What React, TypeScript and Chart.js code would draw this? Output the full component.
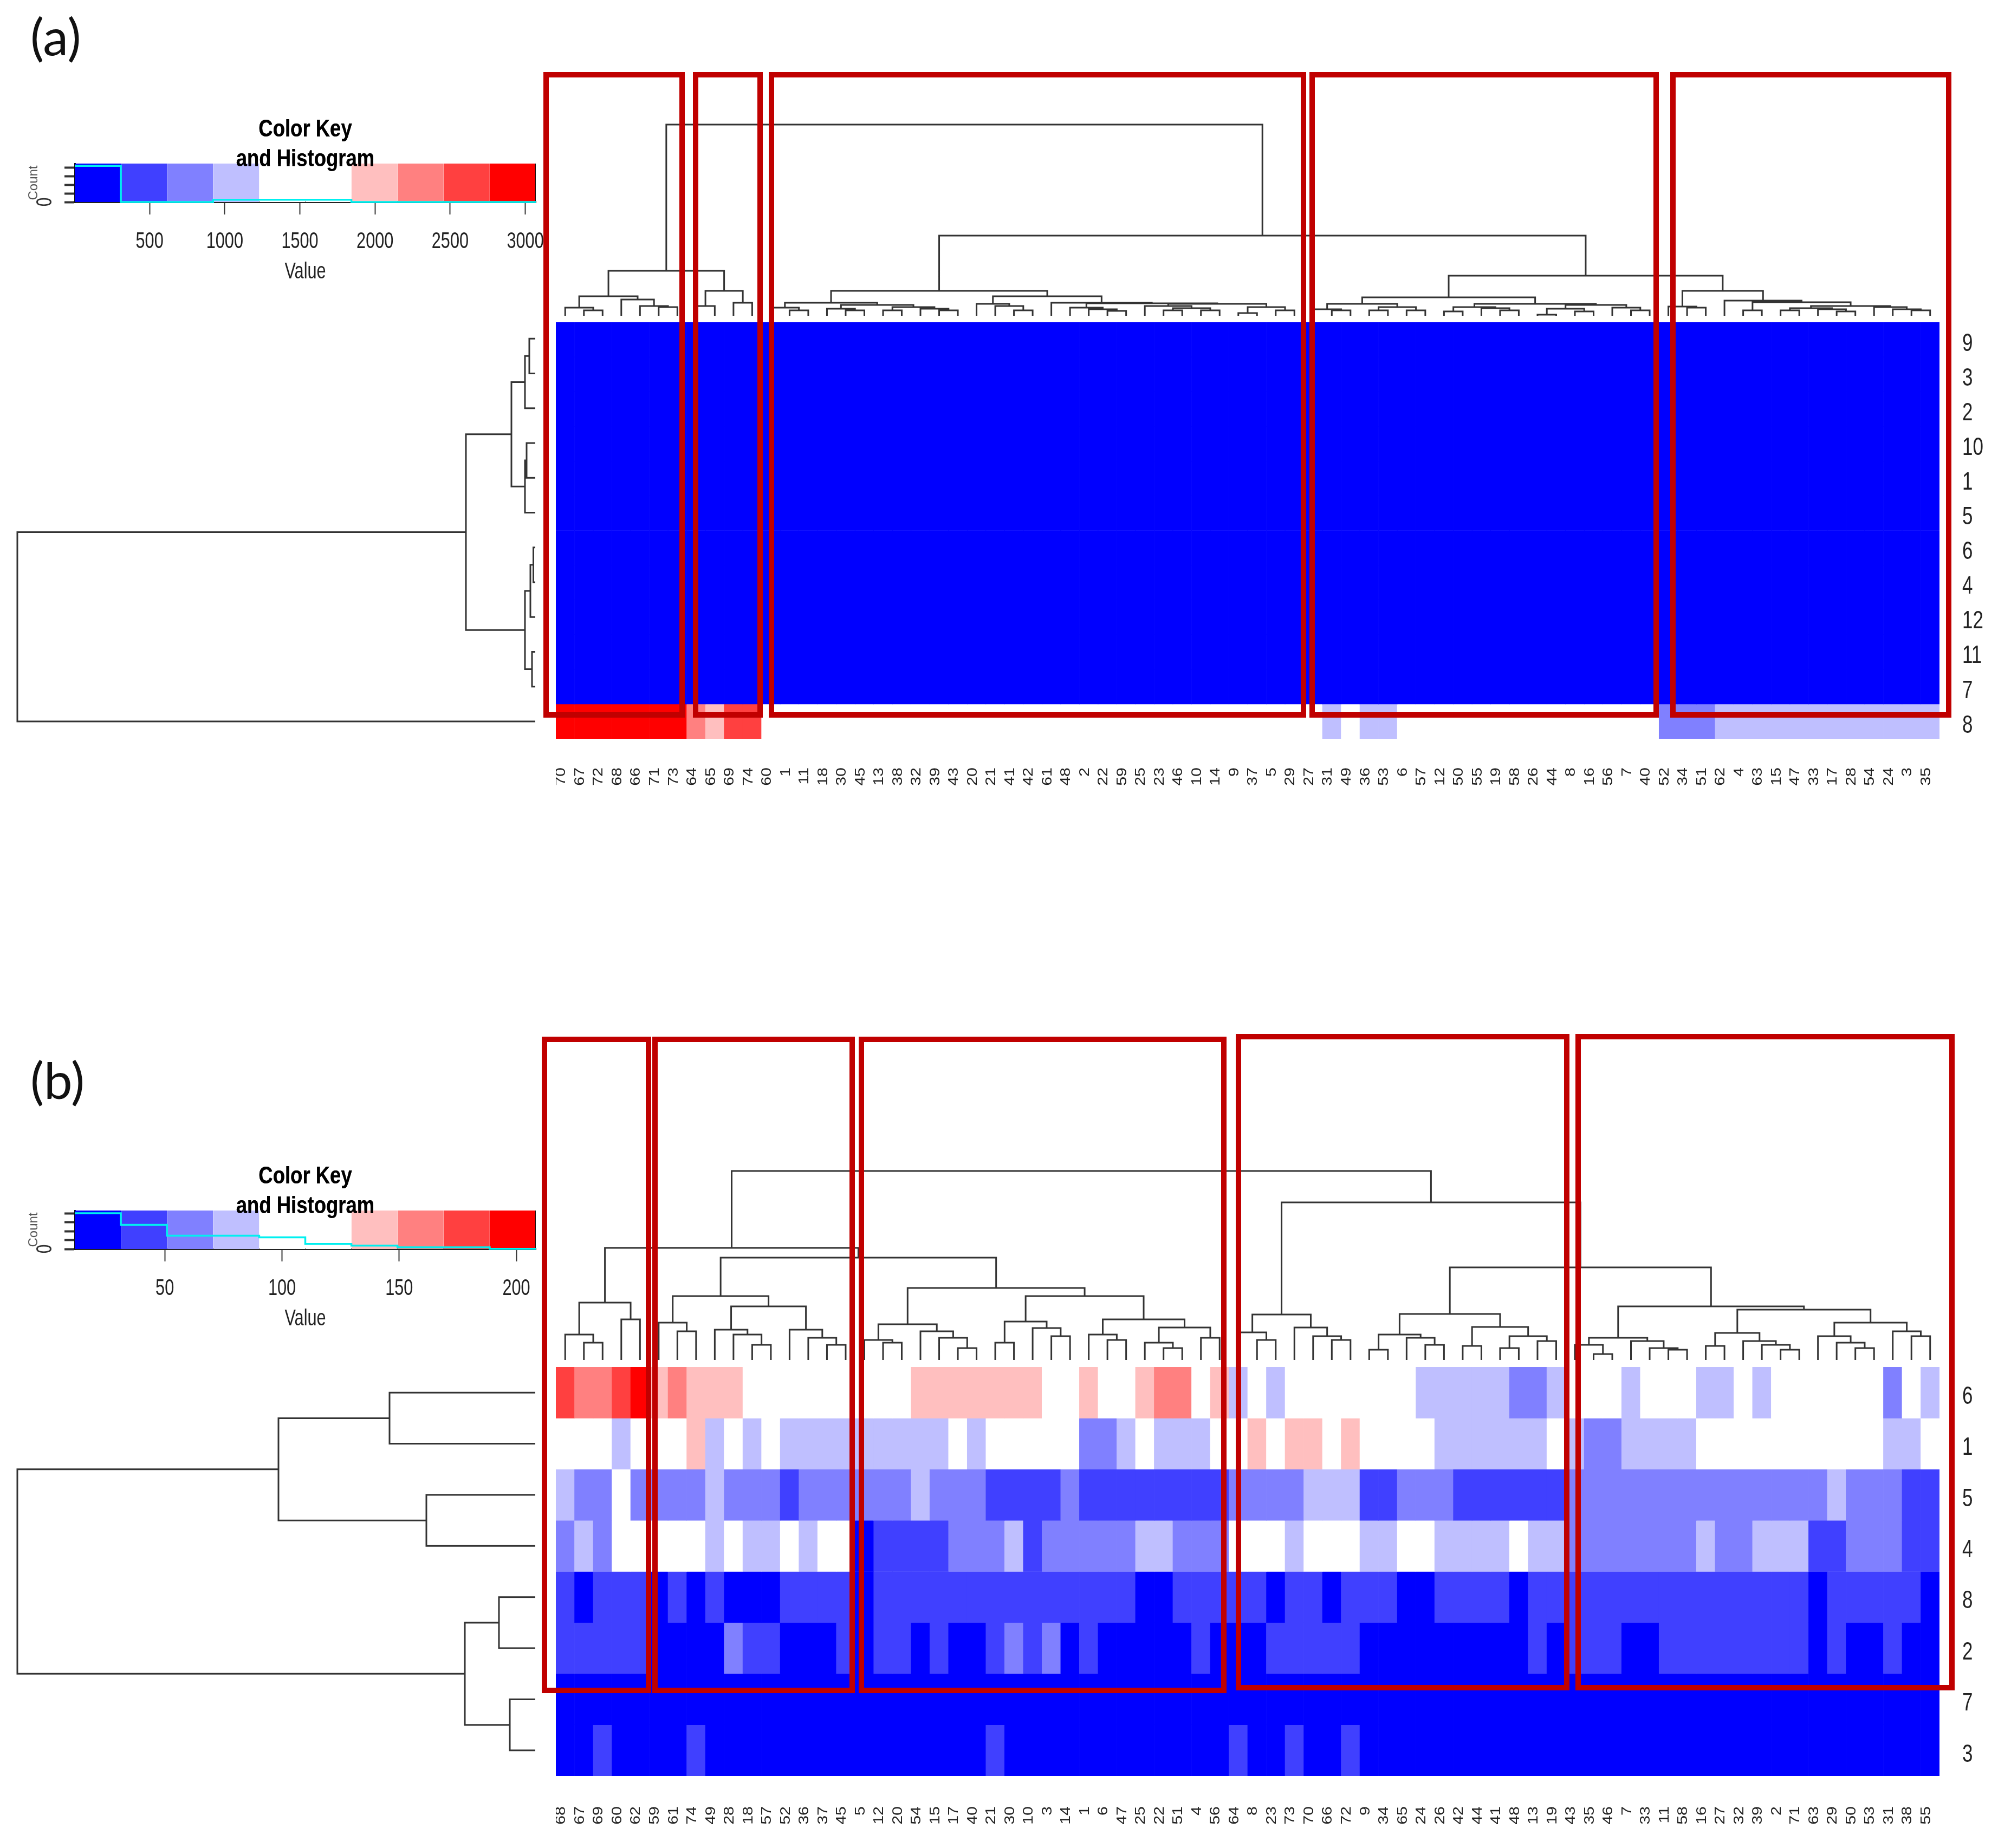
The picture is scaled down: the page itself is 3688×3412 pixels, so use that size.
import React, { useEffect, useRef } from "react";
import { Chart, registerables } from "chart.js";

Chart.register(...registerables);

type Tree = number | [number, Tree, Tree];

// ---------- colour levels (0 = blue ... 4 = white ... 8 = red)
const levelColors = ["#0000FF", "#4040FF", "#8080FF", "#BFBFFF", "#FFFFFF", "#FFBFBF", "#FF8080", "#FF4040", "#FF0000"];
const keyBandColors = ["#0000FF", "#4040FF", "#8080FF", "#BFBFFF", "#FFFFFF", "#FFFFFF", "#FFBFBF", "#FF8080", "#FF4040", "#FF0000"];

// ---------- panel (a)
const aColumns = ["70","67","72","68","66","71","73","64","65","69","74","60","1","11","18","30","45","13","38","32","39","43","20","21","41","42","61","48","2","22","59","25","23","46","10","14","9","37","5","29","27","31","49","36","53","6","57","12","50","55","19","58","26","44","8","16","56","7","40","52","34","51","62","4","63","15","47","33","17","28","54","24","3","35"];
const aRows = ["9","3","2","10","1","5","6","4","12","11","7","8"];
const aBlueRow = [0,0,0,0,0,0,0,0,0,0,0,0,0,0,0,0,0,0,0,0,0,0,0,0,0,0,0,0,0,0,0,0,0,0,0,0,0,0,0,0,0,0,0,0,0,0,0,0,0,0,0,0,0,0,0,0,0,0,0,0,0,0,0,0,0,0,0,0,0,0,0,0,0,0];
const aRow8 = [8,8,8,8,8,8,8,6,5,7,7,4,4,4,4,4,4,4,4,4,4,4,4,4,4,4,4,4,4,4,4,4,4,4,4,4,4,4,4,4,4,3,4,3,3,4,4,4,4,4,4,4,4,4,4,4,4,4,4,2,2,2,3,3,3,3,3,3,3,3,3,3,3,3];
const aLevels = [aBlueRow, aBlueRow, aBlueRow, aBlueRow, aBlueRow, aBlueRow, aBlueRow, aBlueRow, aBlueRow, aBlueRow, aBlueRow, aRow8];
const aColumnTree: Tree = [353,
  [83, [36, [15, 0, [10, 1, 2]], [30, 3, [18, 4, [16, 5, 6]]]], [46, [18, 7, 8], [24, 9, 10]]],
  [148,
    [46,
      [24, [15, 11, [10, 12, 13]], [20, [13, 14, [10, 15, 16]], [16, [10, 17, 18], [13, 19, [10, 20, 21]]]]],
      [36, [22, 22, [18, 23, [10, 24, 25]]], [24, 26, [23, [15, 27, [12, 28, [9, 29, 30]]], [22, [18, 31, [14, [10, 32, 33], [10, 34, 35]]], [16, [5, 36, 37], [10, 38, 39]]]]]]],
    [74,
      [34, [22, [12, 40, [10, 41, 42]], [16, [10, 43, 44], [10, 45, 46]]], [22, [16, [8, 47, 48], [14, 49, [10, 50, 51]]], [20, [13, [2, 52, 53], [8, 54, 55]], [15, 56, [10, 57, 58]]]]],
      [46, [17, 59, [15, 60, 61]], [28, 62, [25, [10, 63, 64], [18, [14, [10, 65, 66], [12, 67, [8, 68, 69]]], [16, 70, [12, 71, [10, 72, 73]]]]]]]]]];
const aRowTree: Tree = [956,
  [128, [44, [19, [11, 0, 1], 2], [19, [16, 3, 4], 5]], [19, [9, [3.5, 6, 7], 8], [6, 9, 10]]],
  11];
const aKeyTicks = [500, 1000, 1500, 2000, 2500, 3000];
const aKeyRange = [2, 3070];
const aCountTicks = [0, 200, 400, 600, 800];
const aCountMax = 893;
const aHistogram = [840, 0, 0, 55, 55, 55, 0, 0, 0, 0];

// ---------- panel (b)
const bColumns = ["68","67","69","60","62","59","61","74","49","28","18","57","52","36","37","45","5","12","20","54","15","17","40","21","30","10","3","14","1","6","47","25","22","51","4","56","64","8","23","73","70","66","72","9","34","65","24","26","42","44","41","48","13","19","43","35","46","7","33","11","58","16","27","32","39","2","71","63","29","50","53","31","38","55"];
const bRows = ["6","1","5","4","8","2","7","3"];
const bRow6 = [7,6,6,7,8,5,6,5,5,5,4,4,4,4,4,4,4,4,4,5,5,5,5,5,5,5,4,4,5,4,4,5,6,6,4,5,3,4,3,4,4,4,4,4,4,4,3,3,3,3,3,2,2,3,4,4,4,3,4,4,4,3,3,4,3,4,4,4,4,4,4,2,4,3];
const bRow1 = [4,4,4,3,4,4,4,5,3,4,3,4,3,3,3,3,3,3,3,3,3,4,3,4,4,4,4,4,2,2,3,4,3,3,3,4,4,5,4,5,5,4,5,4,4,4,4,3,3,3,3,3,3,4,3,2,2,3,3,3,3,4,4,4,4,4,4,4,4,4,4,3,3,4];
const bRow5 = [3,2,2,4,2,2,2,2,3,2,2,2,1,2,2,2,2,2,2,3,2,2,2,1,1,1,1,2,1,1,1,1,1,1,1,1,2,2,2,2,3,3,3,1,1,2,2,2,1,1,1,1,1,1,2,2,2,2,2,2,2,2,2,2,2,2,2,2,3,2,2,2,1,1];
const bRow4 = [2,3,2,4,4,4,4,4,3,4,3,3,4,3,4,4,0,1,1,1,1,2,2,2,3,1,2,2,2,2,2,3,3,2,2,2,4,4,4,3,4,4,4,3,3,4,4,3,3,3,3,4,3,3,2,2,2,2,2,2,2,3,2,2,3,3,3,1,1,2,2,2,1,1];
const bRow8 = [1,0,1,1,1,0,1,0,1,0,0,0,1,1,1,1,0,1,1,1,1,1,1,1,1,1,1,1,1,1,1,0,0,1,1,1,1,1,0,1,1,0,1,1,1,0,0,1,1,1,1,0,1,1,1,1,1,1,1,1,1,1,1,1,1,1,1,0,1,1,1,1,1,0];
const bRow2 = [1,1,1,1,1,0,0,0,0,2,1,1,0,0,0,1,0,1,1,0,1,0,0,1,2,1,2,0,1,0,0,0,0,0,1,0,0,0,1,1,1,1,1,0,0,0,0,0,0,0,0,0,1,0,1,1,1,0,0,1,1,1,1,1,1,1,1,0,1,0,0,1,0,0];
const bRow7 = [0,0,0,0,0,0,0,0,0,0,0,0,0,0,0,0,0,0,0,0,0,0,0,0,0,0,0,0,0,0,0,0,0,0,0,0,0,0,0,0,0,0,0,0,0,0,0,0,0,0,0,0,0,0,0,0,0,0,0,0,0,0,0,0,0,0,0,0,0,0,0,0,0,0];
const bRow3 = [0,0,1,0,0,0,0,1,0,0,0,0,0,0,0,0,0,0,0,0,0,0,0,1,0,0,0,0,0,0,0,0,0,0,0,0,1,0,0,1,0,0,1,0,0,0,0,0,0,0,0,0,0,0,0,0,0,0,0,0,0,0,0,0,0,0,0,0,0,0,0,0,0,0];
const bLevels = [bRow6, bRow1, bRow5, bRow4, bRow8, bRow2, bRow7, bRow3];
const bColumnTree: Tree = [349,
  [207,
    [106, [47, 0, [32, 1, 2]], [75, 3, 4]],
    [189,
      [118, [69, 5, [53, 6, 7]], [99, [56, 8, [47, 9, [28, 10, 11]]], [56, 12, [41, 13, [28, 14, 15]]]]],
      [133,
        [66, [37, 16, [32, 17, 18]], [53, 19, [41, 20, [22, 21, 22]]]],
        [118, [71, [32, 23, 24], [59, 25, [44, 26, 27]]], [75, [47, 28, [37, 29, 30]], [60, [32, 31, [22, 32, 33]], [41, 34, 35]]]]]]],
  [291,
    [84, [51, 36, [37, 37, 38]], [60, 39, [44, 40, [37, 41, 42]]]],
    [171,
      [85, [47, [19, 43, 44], [41, 45, [28, 46, 47]]], [61, [26, 48, 49], [44, [22, 50, 51], [35, 52, 53]]]],
      [99,
        [41, [28, 54, [11, 55, 56]], [35, 57, [22, 58, [19, 59, 60]]]],
        [93, [50, [26, 61, 62], [35, 63, [28, 64, [19, 65, 66]]]], [69, [44, 67, [32, 68, [22, 69, 70]]], [53, 71, [44, 72, 73]]]]]]]];
const bRowTree: Tree = [956,
  [474, [269, 0, 1], [201, 2, 3]],
  [130, [67, 4, 5], [47, 6, 7]]];
const bKeyTicks = [50, 100, 150, 200];
const bKeyRange = [11.6, 208.3];
const bCountTicks = [0, 50, 100, 150, 200];
const bCountMax = 217;
const bHistogram = [202, 136, 75, 75, 66, 28, 19, 9, 9, 1];

// ---------- layout (page pixels)
const HEAT_LEFT = 1026;
const HEAT_RIGHT = 3580;
const SANS = "'Liberation Sans', Arial, sans-serif";
const LINE = "#333333";
const redBoxes = [
  [1003, 133, 1264, 1325], [1279, 133, 1408, 1325], [1419, 133, 2411, 1325], [2417, 133, 3062, 1325], [3083, 133, 3602, 1325],
  [1000, 1914, 1202, 3126], [1204, 1914, 1578, 3126], [1585, 1914, 2264, 3126], [2281, 1909, 2897, 3121], [2908, 1909, 3608, 3121],
];

// The reference's text is stretched sideways: scale each label along its own
// direction, around its anchor, by font size.
function stretchText(byFontSize: Record<string, number>) {
  return {
    id: "stretchText",
    install(chart: any) {
      const ctx = chart.ctx;
      const fill = ctx.fillText.bind(ctx);
      ctx.fillText = (text: string, x: number, y: number, maxWidth?: number) => {
        const m = /(\d+(?:\.\d+)?)px/.exec(ctx.font);
        const sx = (m && byFontSize[m[1]]) || 1;
        ctx.save();
        ctx.translate(x, y);
        ctx.scale(sx, 1);
        if (maxWidth === undefined) fill(text, 0, 0);
        else fill(text, 0, 0, maxWidth);
        ctx.restore();
      };
    },
  };
}

const noPadding = (s: any) => { s.paddingLeft = 0; s.paddingRight = 0; s.paddingTop = 0; s.paddingBottom = 0; };

function flatten(tree: Tree, out: { x: number; y: number }[]): { pos: number; h: number } {
  if (typeof tree === "number") return { pos: tree + 0.5, h: 0 };
  const [h, l, r] = tree;
  const a = flatten(l, out);
  const b = flatten(r, out);
  out.push({ x: a.pos, y: a.h }, { x: a.pos, y: h }, { x: b.pos, y: h }, { x: b.pos, y: b.h }, { x: NaN, y: NaN });
  return { pos: (a.pos + b.pos) / 2, h };
}

function CanvasChart({ config, left, top, width, height }: any) {
  const ref = useRef<HTMLCanvasElement>(null);
  useEffect(() => {
    const chart = new Chart(ref.current as HTMLCanvasElement, config);
    return () => chart.destroy();
  }, []);
  return <canvas ref={ref} width={width} height={height} style={{ position: "absolute", left, top, width, height }} />;
}

const baseOptions = { responsive: false, animation: false, devicePixelRatio: 1, events: [] as string[] };

function columnDendrogram(tree: Tree, count: number, top: number, bottom: number) {
  const points: { x: number; y: number }[] = [];
  const root = flatten(tree, points);
  const pad = 4;
  const config: any = {
    type: "scatter",
    data: { datasets: [{ data: points, showLine: true, spanGaps: false, pointRadius: 0, borderColor: LINE, borderWidth: 3, clip: false }] },
    options: {
      ...baseOptions,
      layout: { padding: pad },
      plugins: { legend: { display: false }, tooltip: { enabled: false } },
      scales: { x: { type: "linear", display: false, min: 0, max: count }, y: { type: "linear", display: false, min: 0, max: root.h } },
    },
  };
  return <CanvasChart config={config} left={HEAT_LEFT - pad} top={top - pad} width={HEAT_RIGHT - HEAT_LEFT + 2 * pad} height={bottom - top + 2 * pad} />;
}

function rowDendrogram(tree: Tree, count: number, top: number, bottom: number) {
  const raw: { x: number; y: number }[] = [];
  const root = flatten(tree, raw);
  const pad = 4;
  const config: any = {
    type: "scatter",
    data: { datasets: [{ data: raw.map((p) => ({ x: p.y, y: p.x })), showLine: true, spanGaps: false, pointRadius: 0, borderColor: LINE, borderWidth: 3, clip: false }] },
    options: {
      ...baseOptions,
      layout: { padding: pad },
      plugins: { legend: { display: false }, tooltip: { enabled: false } },
      scales: {
        x: { type: "linear", display: false, reverse: true, min: 0, max: root.h },
        y: { type: "linear", display: false, reverse: true, min: 0, max: count },
      },
    },
  };
  return <CanvasChart config={config} left={32 - pad} top={top - pad} width={956 + 2 * pad} height={bottom - top + 2 * pad} />;
}

function heatmap(columns: string[], rows: string[], levels: number[][], top: number, bottom: number, labelGap: number) {
  const axisHeight = 110;
  const config: any = {
    type: "bar",
    data: {
      labels: columns,
      datasets: levels.map((row, i) => ({
        label: rows[i],
        data: row.map(() => 1),
        backgroundColor: row.map((l) => levelColors[l]),
        borderWidth: 0,
        barPercentage: 1,
        categoryPercentage: 1,
        xAxisID: "x",
        yAxisID: "y",
      })),
    },
    options: {
      ...baseOptions,
      layout: { padding: 0 },
      plugins: { legend: { display: false }, tooltip: { enabled: false } },
      scales: {
        x: {
          stacked: true,
          position: "bottom",
          grid: { display: false, drawTicks: false },
          border: { display: false },
          afterFit: (s: any) => { s.height = axisHeight; noPadding(s); },
          ticks: { autoSkip: false, minRotation: 90, maxRotation: 90, padding: labelGap, labelOffset: -7, color: "#222", font: { family: SANS, size: 26 } },
        },
        y: { stacked: true, display: false, reverse: true, min: 0, max: rows.length },
        y1: {
          type: "category",
          position: "right",
          labels: rows,
          offset: true,
          grid: { display: false, drawTicks: false },
          border: { display: false },
          afterFit: (s: any) => { s.width = 3688 - HEAT_RIGHT; noPadding(s); },
          ticks: { autoSkip: false, padding: 42, labelOffset: 8, color: "#222", font: { family: SANS, size: 46 } },
        },
      },
    },
    plugins: [stretchText({ "26": 1.17, "46": 0.76 })],
  };
  return <CanvasChart config={config} left={HEAT_LEFT} top={top} width={3688 - HEAT_LEFT} height={bottom - top + axisHeight} />;
}

function colorKey(top: number, keyTicks: number[], range: number[], countTicks: number[], countMax: number, histogram: number[]) {
  const [lo, hi] = range;
  const edge = (i: number) => lo + ((hi - lo) * i) / keyBandColors.length;
  const histLine = histogram.flatMap((c, i) => [{ x: edge(i), y: c }, { x: edge(i + 1), y: c }]);
  const bands = keyBandColors.map((color, i) => ({
    data: [{ x: edge(i), y: countMax }, { x: edge(i + 1), y: countMax }],
    showLine: true,
    pointRadius: 0,
    borderWidth: 0,
    fill: "origin",
    backgroundColor: color,
  }));
  const config: any = {
    type: "scatter",
    data: {
      datasets: [
        { data: histLine, showLine: true, pointRadius: 0, borderColor: "#00F0F0", borderWidth: 3.5, clip: false },
        { data: [{ x: hi, y: 0 }, { x: hi, y: countMax }], showLine: true, pointRadius: 0, borderColor: "#111", borderWidth: 2 },
        ...bands,
      ],
    },
    options: {
      ...baseOptions,
      layout: { padding: { right: 51 } },
      plugins: {
        legend: { display: false },
        tooltip: { enabled: false },
        title: {
          display: true,
          fullSize: false,
          text: ["Color Key", "and Histogram"],
          color: "#000",
          font: { family: SANS, size: 44, weight: "bold", lineHeight: 1.25 },
          padding: { top: 12, bottom: -20 },
        },
      },
      scales: {
        x: {
          type: "linear",
          min: lo,
          max: hi,
          afterBuildTicks: (s: any) => { s.ticks = keyTicks.map((value) => ({ value })); },
          afterFit: (s: any) => { s.height = 157; noPadding(s); },
          grid: { drawOnChartArea: false, tickLength: 23, tickColor: "#333", tickWidth: 2 },
          border: { color: "#222", width: 4 },
          ticks: { autoSkip: false, maxRotation: 0, padding: 25, color: "#222", font: { family: SANS, size: 42 }, callback: (v: number) => String(v) },
          title: { display: true, text: "Value", color: "#222", font: { family: SANS, size: 42 }, padding: { top: 0, bottom: 2 } },
        },
        y: {
          type: "linear",
          min: 0,
          max: countMax,
          afterBuildTicks: (s: any) => { s.ticks = countTicks.map((value) => ({ value })); },
          afterFit: (s: any) => { s.width = 138; noPadding(s); },
          grid: { drawOnChartArea: false, tickLength: 19, tickColor: "#333", tickWidth: 4 },
          border: { color: "#111", width: 3 },
          ticks: {
            autoSkip: false,
            minRotation: 90,
            maxRotation: 90,
            crossAlign: "center",
            padding: 24,
            color: "#333",
            font: { family: SANS, size: 40 },
            callback: (v: number) => (v === 0 ? "0" : ""),
          },
          title: { display: true, text: "Count", color: "#555", font: { family: SANS, size: 24 }, padding: { top: 48, bottom: 0 } },
        },
      },
    },
    plugins: [
      stretchText({ "44": 0.83, "42": 0.73, "40": 0.75 }),
      { id: "titleOnTop", afterDatasetsDraw: (c: any) => { c.titleBlock && c.titleBlock.draw(); } },
    ],
  };
  return <CanvasChart config={config} left={0} top={top} width={1040} height={330} />;
}

function PanelLabel({ text, top }: { text: string; top: number }) {
  return (
    <div style={{ position: "absolute", left: 56, top, fontFamily: "Lato, 'Open Sans', sans-serif", fontSize: 94, lineHeight: "100px", color: "#111" }}>
      {text}
    </div>
  );
}

export default function App() {
  return (
    <div style={{ position: "absolute", left: 0, top: 0, width: 3688, height: 3412, background: "#fff", overflow: "hidden" }}>
      <PanelLabel text="(a)" top={16} />
      <PanelLabel text="(b)" top={1943} />
      {colorKey(200, aKeyTicks, aKeyRange, aCountTicks, aCountMax, aHistogram)}
      {colorKey(2133, bKeyTicks, bKeyRange, bCountTicks, bCountMax, bHistogram)}
      {columnDendrogram(aColumnTree, aColumns.length, 230, 583)}
      {columnDendrogram(bColumnTree, bColumns.length, 2162, 2511)}
      {rowDendrogram(aRowTree, aRows.length, 593, 1364)}
      {rowDendrogram(bRowTree, bRows.length, 2524, 3279)}
      {heatmap(aColumns, aRows, aLevels, 595, 1364, 53)}
      {heatmap(bColumns, bRows, bLevels, 2524, 3279, 56)}
      {redBoxes.map(([x0, y0, x1, y1], i) => (
        <div key={i} style={{ position: "absolute", left: x0, top: y0, width: x1 - x0, height: y1 - y0, boxSizing: "border-box", border: "10px solid #C00000" }} />
      ))}
    </div>
  );
}
